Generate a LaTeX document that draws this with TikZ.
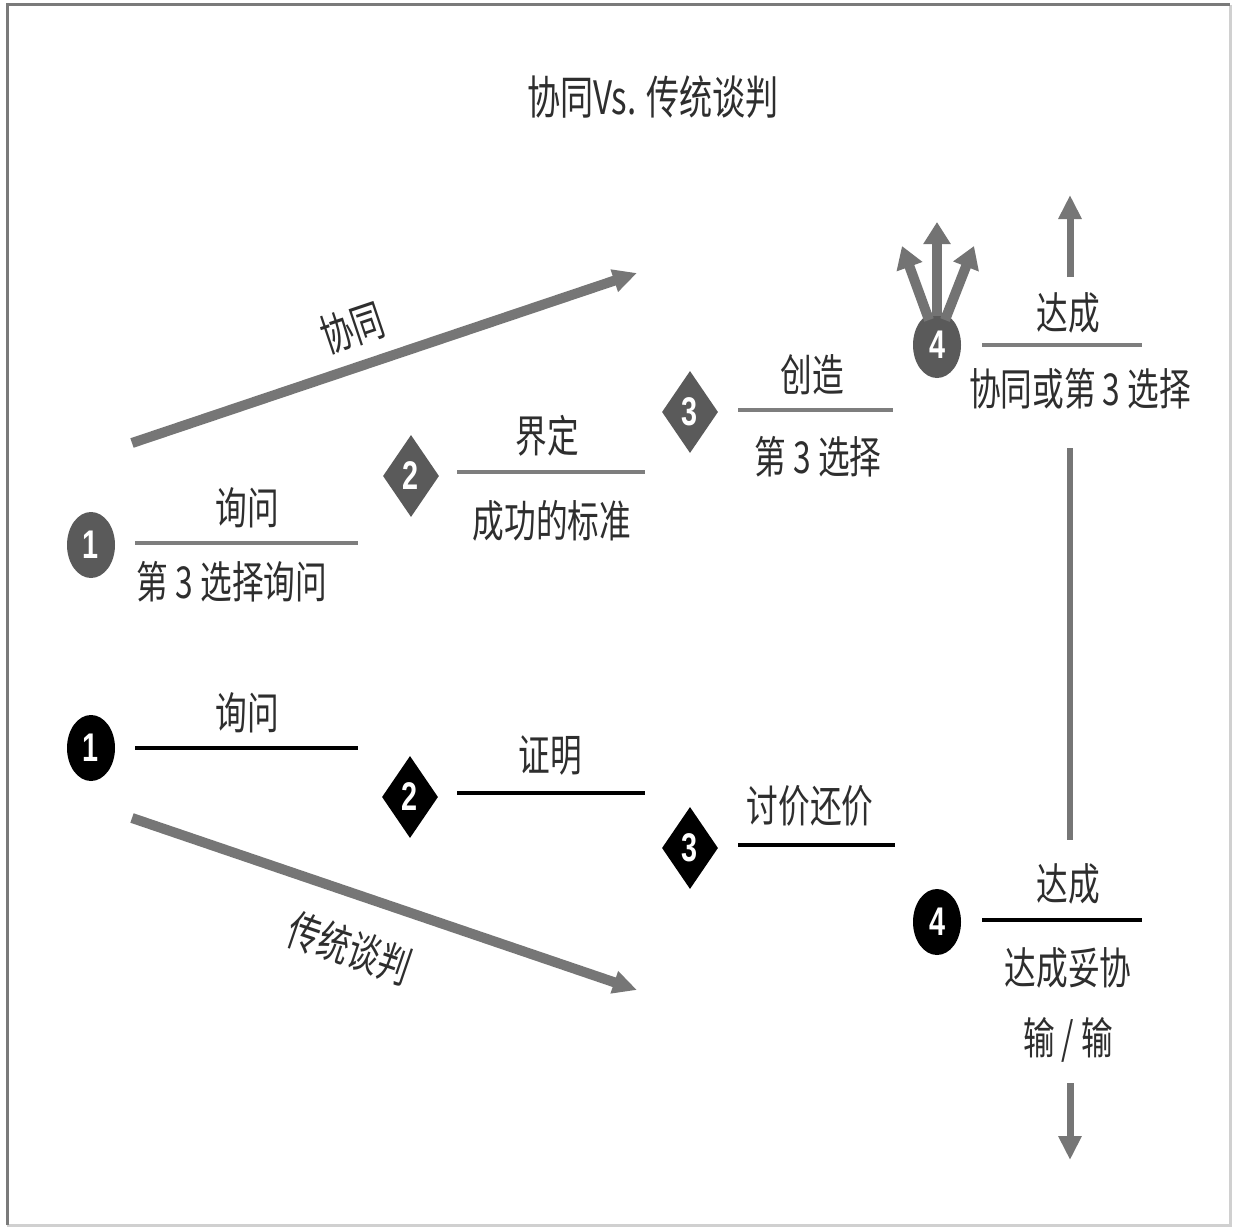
\documentclass[tikz,border=0pt]{standalone}
\usepackage{fontspec}
\setmainfont{Liberation Sans}
\newfontfamily\cjk[FakeStretch=0.72]{Noto Sans CJK SC}
\newfontfamily\numfont[FakeStretch=0.72]{Liberation Sans}
\usetikzlibrary{arrows.meta,shapes.geometric}
\definecolor{framedark}{HTML}{7A7A7A}
\definecolor{framelight}{HTML}{D0D0D0}
\definecolor{markgray}{HTML}{5A5A5A}
\definecolor{arrowgray}{HTML}{767676}
\definecolor{rulegray}{HTML}{7E7E7E}
\definecolor{textgray}{HTML}{2E2E2E}
\begin{document}
\begin{tikzpicture}[x=1pt,y=-1pt,
  lbl/.style={font=\cjk\fontsize{44}{46}\selectfont, inner sep=0pt, text=textgray},
  ttl/.style={font=\cjk\fontsize{46}{48}\selectfont, inner sep=0pt, text=textgray},
  ovalmark/.style={ellipse, minimum width=48pt, minimum height=66pt, inner sep=0pt,
     text=white, font=\numfont\bfseries\fontsize{40}{42}\selectfont},
  diamark/.style={diamond, minimum width=56pt, minimum height=82pt, inner sep=0pt,
     text=white, font=\numfont\bfseries\fontsize{40}{42}\selectfont},
  grayrule/.style={draw=rulegray, line width=4pt},
  blackrule/.style={draw=black, line width=4pt},
  bigarrow/.style={draw=arrowgray, line width=10pt, -{Triangle[length=24pt,width=22pt]}},
  fanarrow/.style={draw=markgray!85, line width=10pt, -{Triangle[length=22pt,width=26pt]}},
  vertarrow/.style={draw=arrowgray, line width=7pt, -{Triangle[length=24pt,width=22pt]}}
]
\useasboundingbox (0,0) rectangle (1234,1228);
\fill[white] (0,0) rectangle (1234,1228);
% frame
\coordinate (fTL) at (7,5);
\coordinate (fTR) at (1230,5);
\coordinate (fBL) at (7,1225);
\coordinate (fBR) at (1230,1225);
\draw[framelight, line width=3pt] (fTR) -- (fBR) -- (fBL);
\draw[framedark, line width=3pt] (fBL) -- (fTL) -- (fTR);

% title
\node[ttl] (title) at (653,97) {协同Vs. 传统谈判};

% ---------- synergy path (gray) ----------
\node[ovalmark, fill=markgray] (g1) at (91,545) {1};
\node[diamark, fill=markgray] (g2) at (411,476) {2};
\node[diamark, fill=markgray] (g3) at (690,412) {3};
\node[ovalmark, fill=markgray] (g4) at (937,345) {4};

\coordinate (g1l) at (135,543); \coordinate (g1r) at (358,543);
\coordinate (g2l) at (457,472); \coordinate (g2r) at (645,472);
\coordinate (g3l) at (738,410); \coordinate (g3r) at (893,410);
\coordinate (g4l) at (982,345); \coordinate (g4r) at (1142,345);
\draw[grayrule] (g1l) -- (g1r);
\draw[grayrule] (g2l) -- (g2r);
\draw[grayrule] (g3l) -- (g3r);
\draw[grayrule] (g4l) -- (g4r);

\node[lbl] (t1a) at (247,508) {询问};
\node[lbl] (t1b) at (232,582) {第 3 选择询问};
\node[lbl] (t2a) at (547,436) {界定};
\node[lbl] (t2b) at (552,521) {成功的标准};
\node[lbl] (t3a) at (812,375) {创造};
\node[lbl] (t3b) at (818,457) {第 3 选择};
\node[lbl] (t4a) at (1068,313) {达成};
\node[lbl] (t4b) at (1080,389) {协同或第 3 选择};

% synergy arrow
\coordinate (synS) at (132,443);
\coordinate (synE) at (637,273);
\draw[bigarrow] (synS) -- (synE);
\node[lbl, rotate=18.6] (synL) at (352,328) {协同};

% fan arrows from 4
\coordinate (fanL0) at (929,320); \coordinate (fanL1) at (902,246);
\coordinate (fanM0) at (937,316); \coordinate (fanM1) at (937,222);
\coordinate (fanR0) at (945,320); \coordinate (fanR1) at (974,246);
\draw[fanarrow] (fanL0) -- (fanL1);
\draw[fanarrow] (fanR0) -- (fanR1);
\draw[fanarrow] (fanM0) -- (fanM1);

% up arrow and vertical line
\coordinate (up0) at (1070,277); \coordinate (up1) at (1070,195);
\draw[vertarrow] (up0) -- (up1);
\coordinate (v0) at (1070,448); \coordinate (v1) at (1070,840);
\draw[draw=arrowgray, line width=6pt] (v0) -- (v1);

% ---------- traditional path (black) ----------
\node[ovalmark, fill=black] (b1) at (91,748) {1};
\node[diamark, fill=black] (b2) at (410,797) {2};
\node[diamark, fill=black] (b3) at (690,848) {3};
\node[ovalmark, fill=black] (b4) at (937,922) {4};

\coordinate (b1l) at (135,748); \coordinate (b1r) at (358,748);
\coordinate (b2l) at (457,793); \coordinate (b2r) at (645,793);
\coordinate (b3l) at (738,845); \coordinate (b3r) at (895,845);
\coordinate (b4l) at (982,920); \coordinate (b4r) at (1142,920);
\draw[blackrule] (b1l) -- (b1r);
\draw[blackrule] (b2l) -- (b2r);
\draw[blackrule] (b3l) -- (b3r);
\draw[blackrule] (b4l) -- (b4r);

\node[lbl] (u1) at (247,713) {询问};
\node[lbl] (u2) at (550,755) {证明};
\node[lbl] (u3) at (810,806) {讨价还价};
\node[lbl] (u4a) at (1068,884) {达成};
\node[lbl] (u4b) at (1068,968) {达成妥协};
\node[lbl] (u4c) at (1068,1040) {输 / 输};

% traditional arrow
\coordinate (trS) at (132,818);
\coordinate (trE) at (637,990);
\draw[bigarrow] (trS) -- (trE);
\node[lbl, rotate=-18.8] (trL) at (350,948) {传统谈判};

% down arrow
\coordinate (dn0) at (1070,1083); \coordinate (dn1) at (1070,1160);
\draw[vertarrow] (dn0) -- (dn1);
\end{tikzpicture}
\end{document}
